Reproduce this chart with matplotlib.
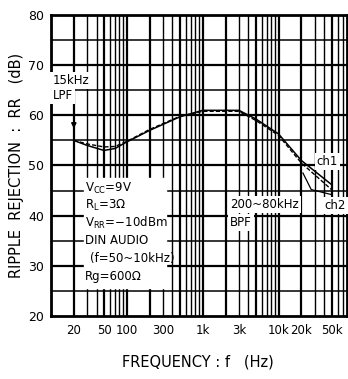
import matplotlib
matplotlib.use("Agg")
import matplotlib.pyplot as plt
import numpy as np

plt.rcParams['font.family'] = ['DejaVu Sans']
plt.rcParams['mathtext.fontset'] = 'dejavusans'

# data
freq_ch1 = [20, 30, 50, 70, 100, 200, 500, 1000, 2000, 3000, 5000, 10000, 20000, 50000]
rr_ch1 = [55.0, 54.0, 53.0, 53.4, 54.7, 57.0, 59.7, 61.0, 61.0, 61.0, 59.3, 56.3, 51.0, 46.2]
freq_ch2 = [20, 30, 50, 70, 100, 200, 500, 1000, 2000, 3000, 5000, 10000, 20000, 50000]
rr_ch2 = [55.0, 54.3, 53.7, 53.8, 54.8, 57.2, 59.8, 60.8, 60.8, 60.8, 59.0, 56.0, 50.5, 45.2]
xtick_vals = [20, 50, 100, 300, 1000, 3000, 10000, 20000, 50000]
xtick_labels = ["20", "50", "100", "300", "1k", "3k", "10k", "20k", "50k"]
ytick_vals = [20, 30, 40, 50, 60, 70, 80]

FS = 8.5
fig = plt.figure(figsize=(3.48, 3.79), dpi=100)
ax = fig.add_axes([51/348, 1-316/379, 296/348, 301/379])
ax.set_xscale('log')
ax.set_xlim(10, 80000)
ax.set_ylim(20, 80)

# grid
for dec in [10, 100, 1000, 10000]:
    for m in range(1, 10):
        f = dec * m
        if f <= 80000:
            lw = 1.6 if m in (1, 2, 5) else 1.0
            ax.axvline(f, color='black', lw=lw, zorder=1)
for y in range(25, 80, 5):
    ax.axhline(y, color='black', lw=1.6 if y % 10 == 0 else 1.1, zorder=1)

ax.plot(freq_ch1, rr_ch1, color='black', lw=1.1, zorder=4)
ax.plot(freq_ch2, rr_ch2, color='black', lw=1.0, ls=(0, (3, 1.5)), zorder=4)

ax.set_xticks(xtick_vals)
ax.set_xticklabels(xtick_labels)
ax.xaxis.set_minor_locator(matplotlib.ticker.NullLocator())
ax.set_yticks(ytick_vals)
ax.tick_params(axis='x', length=0, labelsize=8.5, pad=6)
ax.tick_params(axis='y', length=0, labelsize=9, pad=5)
for s in ax.spines.values():
    s.set_linewidth(2.0)

ax.set_ylabel("RIPPLE  REJECTION  :  RR   (dB)", fontsize=10.5, labelpad=3)
fig.text(198/348, 1-362/379, "FREQUENCY : f   (Hz)", fontsize=10.5, ha='center', va='center')

wb = dict(facecolor='white', edgecolor='none', pad=1.5)
ax.text(10.5, 67.0, "15kHz", fontsize=FS, ha='left', va='center', bbox=wb, zorder=5)
ax.text(10.5, 64.0, "LPF", fontsize=FS, ha='left', va='center', bbox=wb, zorder=5)
ax.annotate("", xy=(20, 56.8), xytext=(20, 62.3),
            arrowprops=dict(arrowstyle='-|>', color='black', lw=1.2, mutation_scale=7), zorder=5)

# parameter block with white background
ax.fill_between([27, 330], [25.6, 25.6], [47.5, 47.5], color='white', zorder=3)
params = [(28, 45.4, r"V$_{\mathrm{CC}}$=9V"),
          (28, 42.0, r"R$_{\mathrm{L}}$=3Ω"),
          (28, 38.5, r"V$_{\mathrm{RR}}$=−10dBm"),
          (28, 35.0, "DIN AUDIO"),
          (33, 31.4, "(f=50~10kHz)"),
          (28, 27.8, "Rg=600Ω")]
for x, y, t in params:
    ax.text(x, y, t, fontsize=FS, ha='left', va='center', zorder=5)

ax.text(2300, 42.3, "200~80kHz", fontsize=FS, ha='left', va='center', bbox=wb, zorder=5)
ax.text(2300, 38.6, "BPF", fontsize=FS, ha='left', va='center', bbox=wb, zorder=5)

ax.text(32000, 50.8, "ch1", fontsize=FS, ha='left', va='center', bbox=wb, zorder=5)
ax.text(40000, 42.1, "ch2", fontsize=FS, ha='left', va='center', bbox=wb, zorder=5)
ax.plot([21000, 27000, 50000], [48.5, 45.2, 44.2], color='black', lw=0.9, zorder=4)

fig.savefig("out.png", dpi=100)
